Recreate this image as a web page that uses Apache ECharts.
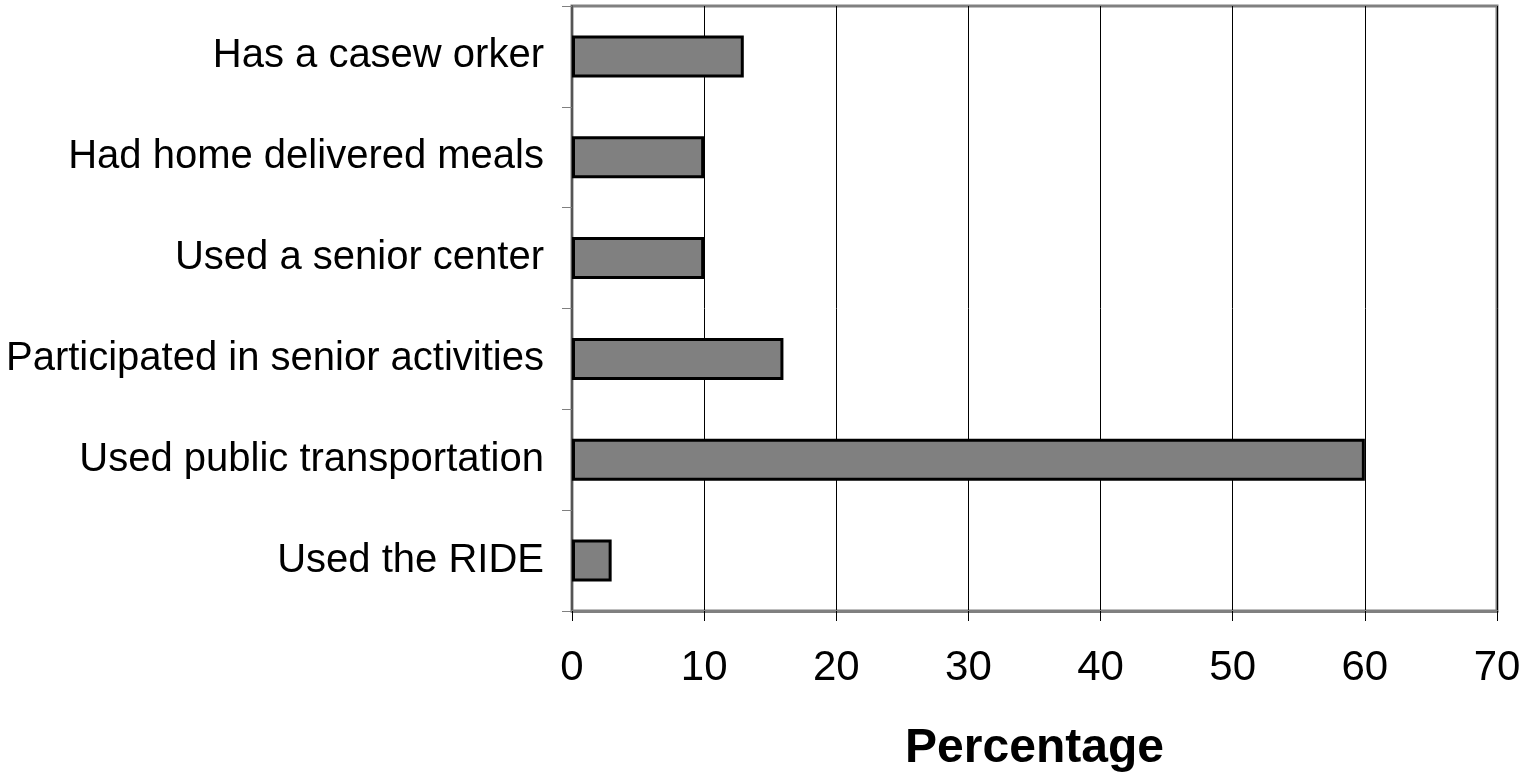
<!DOCTYPE html>
<html>
<head>
<meta charset="utf-8">
<script src="https://cdn.jsdelivr.net/npm/echarts@6/dist/echarts.min.js"></script>
<style>
  html, body { margin: 0; padding: 0; background: #fff; }
  #chart { width: 1533px; height: 775px; }
</style>
</head>
<body>
<div id="chart"></div>
<script>
  // categories, top to bottom
  let categories = [
    'Has a casew orker',
    'Had home delivered meals',
    'Used a senior center',
    'Participated in senior activities',
    'Used public transportation',
    'Used the RIDE'
  ]
  let percentages = [13, 10, 10, 16, 60, 3]
  let xTicks = [0, 10, 20, 30, 40, 50, 60, 70]

  let myChart = echarts.init(document.getElementById('chart'));
  let font = '"Liberation Sans", Arial, sans-serif'

  myChart.setOption({
    animation: false,
    grid: {
      left: 572,
      right: 36,
      top: 6,
      bottom: 164,
      outerBoundsMode: 'none',
      containLabel: false,
      show: true,
      borderColor: '#808080',
      borderWidth: 3
    },
    xAxis: {
      type: 'value',
      min: xTicks[0],
      max: xTicks[xTicks.length - 1],
      interval: 10,
      name: 'Percentage',
      nameLocation: 'middle',
      nameGap: 114,
      nameTextStyle: {
        fontFamily: font,
        fontWeight: 'bold',
        fontSize: 48,
        color: '#000'
      },
      axisLine: { show: true, lineStyle: { color: '#808080', width: 3 } },
      axisTick: { show: true, length: 10, lineStyle: { color: '#000', width: 1 } },
      axisLabel: {
        margin: 36,
        fontFamily: font,
        fontSize: 42,
        color: '#000'
      },
      splitLine: { show: true, lineStyle: { color: '#000', width: 1 } }
    },
    yAxis: {
      type: 'category',
      inverse: true,
      data: categories,
      axisLine: { show: true, lineStyle: { color: '#555', width: 2 } },
      axisTick: { show: true, length: 10, lineStyle: { color: '#808080', width: 1 } },
      axisLabel: {
        margin: 28,
        fontFamily: font,
        fontSize: 40,
        color: '#000'
      }
    },
    series: [{
      type: 'bar',
      data: percentages,
      barWidth: 42,
      itemStyle: {
        color: '#808080',
        borderColor: '#000',
        borderWidth: 3
      }
    }]
  });
</script>
</body>
</html>
